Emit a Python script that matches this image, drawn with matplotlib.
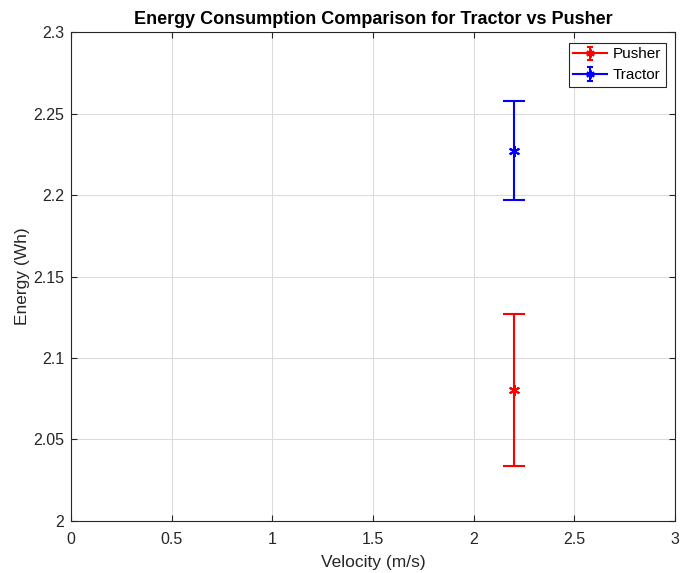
import numpy as np
import matplotlib as mpl
import matplotlib.pyplot as plt
from matplotlib.legend_handler import HandlerErrorbar

mpl.rcParams["font.family"] = ["Liberation Sans", "DejaVu Sans"]

# mean energy and std per configuration
velocity = [2.2]
pusher_mean = [2.0804]
pusher_err = [0.0467]
tractor_mean = [2.2273]
tractor_err = [0.0304]

fig = plt.figure(figsize=(6.8, 5.73), dpi=100)
ax = fig.add_axes([0.1044, 0.0908, 0.8882, 0.8532])

star = (6, 2, 0)  # six spoke asterisk
ax.errorbar(velocity, pusher_mean, yerr=pusher_err, color="red", marker=star,
            markersize=8, markeredgewidth=1.5, capsize=8, capthick=1.5,
            elinewidth=1.5, linewidth=1.5, label="Pusher")
ax.errorbar(velocity, tractor_mean, yerr=tractor_err, color="blue", marker=star,
            markersize=8, markeredgewidth=1.5, capsize=8, capthick=1.5,
            elinewidth=1.5, linewidth=1.5, label="Tractor")

ax.set_xlim(0, 3)
ax.set_ylim(2, 2.3)
ax.set_xticks(np.arange(0, 3.01, 0.5))
ax.set_xticklabels(["0", "0.5", "1", "1.5", "2", "2.5", "3"])
ax.set_yticks(np.arange(2, 2.301, 0.05))
ax.set_yticklabels(["2", "2.05", "2.1", "2.15", "2.2", "2.25", "2.3"])
ax.grid(True, color="#dcdcdc", linewidth=0.8)
ax.set_axisbelow(True)
ax.tick_params(direction="in", length=4, labelsize=11.5, colors="#262626",
               top=True, right=True)
ax.tick_params(axis="x", pad=8)
ax.tick_params(axis="y", pad=5)
for s in ax.spines.values():
    s.set_color("#262626")
    s.set_linewidth(0.8)

ax.set_xlabel("Velocity (m/s)", fontsize=12.5, color="#262626", labelpad=6)
ax.set_ylabel("Energy (Wh)", fontsize=12.5, color="#262626", labelpad=2)
ax.set_title("Energy Consumption Comparison for Tractor vs Pusher",
             fontsize=13, fontweight="bold", pad=6)
leg = ax.legend(loc="upper right", bbox_to_anchor=(0.985, 0.978), borderaxespad=0,
                fontsize=11, fancybox=False, framealpha=1,
                edgecolor="#262626", handlelength=2.2, handletextpad=0.4,
                borderpad=0.3, labelspacing=0.45,
                handler_map={mpl.container.ErrorbarContainer:
                             HandlerErrorbar(xerr_size=0.25, yerr_size=0.43)})
leg.get_frame().set_linewidth(0.8)
# smaller caps and stars inside the legend
for ln in leg.findobj(mpl.lines.Line2D):
    if ln.get_marker() == "_":
        ln.set_markersize(4.5)
    elif ln.get_marker() == star:
        ln.set_markersize(6)

plt.savefig("out.png", dpi=100)
